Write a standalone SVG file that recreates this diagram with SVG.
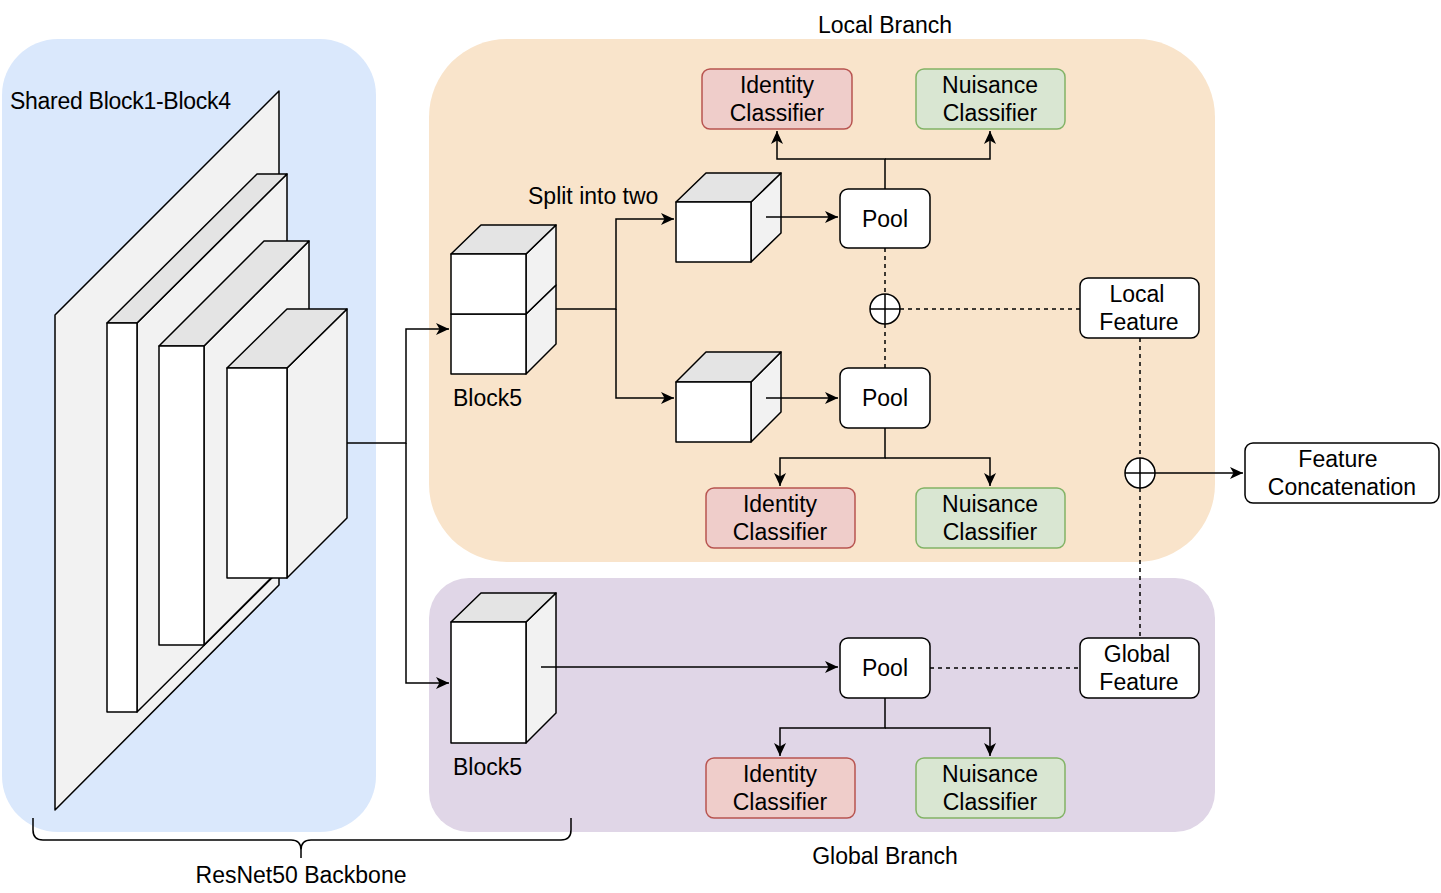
<svg xmlns="http://www.w3.org/2000/svg" width="1441" height="893" viewBox="0 0 1441 893">
<defs>
<marker id="arr" markerWidth="16" markerHeight="14" refX="13" refY="6" orient="auto" markerUnits="userSpaceOnUse">
<path d="M0,0 L13,6 L0,12 L3.5,6 z" fill="#000"/>
</marker>
<style>
text{font-family:"Liberation Sans",Arial,Helvetica,sans-serif;font-size:23px;fill:#000}
.c{text-anchor:middle}
.front{fill:#fff;stroke:#000;stroke-width:1.5;stroke-linejoin:round}
.top{fill:#e4e4e4;stroke:#000;stroke-width:1.5;stroke-linejoin:round}
.side{fill:#f2f2f2;stroke:#000;stroke-width:1.5;stroke-linejoin:round}
.box{fill:#fff;stroke:#000;stroke-width:1.5}
.id{fill:#efcdca;stroke:#b85450;stroke-width:1.5}
.nu{fill:#d9e6d2;stroke:#82b366;stroke-width:1.5}
.ln{fill:none;stroke:#000;stroke-width:1.5}
.dash{fill:none;stroke:#000;stroke-width:1.5;stroke-dasharray:4 4}
</style>
</defs>

<g id="panels">
<rect id="shared-panel" x="2" y="39" width="374" height="793" rx="56" ry="56" fill="#dae8fc"/>
<rect id="local-panel" x="429" y="39" width="786" height="523" rx="78" ry="78" fill="#f9e4cb"/>
<rect id="global-panel" x="429" y="578" width="786" height="254" rx="40" ry="40" fill="#e0d6e7"/>
</g>

<g id="labels">
<text x="10" y="109" textLength="221">Shared Block1-Block4</text>
<text class="c" x="885" y="33">Local Branch</text>
<text class="c" x="885" y="864">Global Branch</text>
<text class="c" x="301" y="883">ResNet50 Backbone</text>
<text x="528" y="204">Split into two</text>
</g>

<g id="block1">
<polygon class="side" points="55,315 279,91 279,585 55,810"/>
</g>
<g id="block2">
<polygon class="side" points="137,323 287,174 287,563 137,712"/>
<polygon class="top" points="107,323 257,174 287,174 137,323"/>
<rect class="front" x="107" y="323" width="30" height="389"/>
</g>
<g id="block3">
<polygon class="side" points="204,346 309,241 309,540 204,645"/>
<polygon class="top" points="159,346 264,241 309,241 204,346"/>
<rect class="front" x="159" y="346" width="45" height="299"/>
</g>
<g id="block4">
<polygon class="side" points="287,368 347,309 347,518 287,578"/>
<polygon class="top" points="227,368 287,309 347,309 287,368"/>
<rect class="front" x="227" y="368" width="60" height="210"/>
</g>

<g id="local-block5">
<polygon class="side" points="526,314 556,285 556,344 526,374"/>
<rect class="front" x="451" y="314" width="75" height="60"/>
<polygon class="side" points="526,254 556,225 556,285 526,314"/>
<polygon class="top" points="451,254 481,225 556,225 526,254"/>
<rect class="front" x="451" y="254" width="75" height="60"/>
<text x="453" y="406">Block5</text>
</g>

<g id="split-upper">
<polygon class="side" points="751,202 781,173 781,233 751,262"/>
<polygon class="top" points="676,202 706,173 781,173 751,202"/>
<rect class="front" x="676" y="202" width="75" height="60"/>
</g>
<g id="split-lower">
<polygon class="side" points="751,382 781,352 781,412 751,442"/>
<polygon class="top" points="676,382 706,352 781,352 751,382"/>
<rect class="front" x="676" y="382" width="75" height="60"/>
</g>

<g id="global-block5">
<polygon class="side" points="526,622 556,593 556,713 526,743"/>
<polygon class="top" points="451,622 481,593 556,593 526,622"/>
<rect class="front" x="451" y="622" width="75" height="121"/>
<text x="453" y="775">Block5</text>
</g>

<g id="connectors">
<path class="ln" d="M347,443 H406 V329 H449" marker-end="url(#arr)"/>
<path class="ln" d="M406,443 V683 H449" marker-end="url(#arr)"/>
<path class="ln" d="M556,309 H616 V219 H674" marker-end="url(#arr)"/>
<path class="ln" d="M616,309 V398 H674" marker-end="url(#arr)"/>
<path class="ln" d="M766,217 H838" marker-end="url(#arr)"/>
<path class="ln" d="M766,398 H838" marker-end="url(#arr)"/>
<path class="ln" d="M541,667 H838" marker-end="url(#arr)"/>
<path class="ln" d="M885,189 V159 H777 V131" marker-end="url(#arr)"/>
<path class="ln" d="M885,159 H990 V131" marker-end="url(#arr)"/>
<path class="ln" d="M885,428 V458 H780 V486" marker-end="url(#arr)"/>
<path class="ln" d="M885,458 H990 V486" marker-end="url(#arr)"/>
<path class="ln" d="M885,698 V728 H780 V756" marker-end="url(#arr)"/>
<path class="ln" d="M885,728 H990 V756" marker-end="url(#arr)"/>
<path class="ln" d="M1155,473 H1243" marker-end="url(#arr)"/>
<path class="dash" d="M885,248 V294"/>
<path class="dash" d="M885,324 V368"/>
<path class="dash" d="M900,309 H1080"/>
<path class="dash" d="M1140,338 V458"/>
<path class="dash" d="M1140,488 V638"/>
<path class="dash" d="M930,668 H1080"/>
<path class="ln" d="M33,818 V830 Q33,840 43,840 H291 Q301,840 301,850 V858 M301,850 Q301,840 311,840 H561 Q571,840 571,830 V818"/>
</g>

<g id="sum-local">
<circle cx="885" cy="309" r="15" fill="#fff" stroke="#000" stroke-width="1.5"/>
<path class="ln" d="M870,309 H900 M885,294 V324"/>
</g>
<g id="sum-concat">
<circle cx="1140" cy="473" r="15" fill="#fff" stroke="#000" stroke-width="1.5"/>
<path class="ln" d="M1125,473 H1155 M1140,458 V488"/>
</g>

<g id="pool-upper">
<rect class="box" x="840" y="189" width="90" height="59" rx="8"/>
<text class="c" x="885" y="227">Pool</text>
</g>
<g id="pool-lower">
<rect class="box" x="840" y="368" width="90" height="60" rx="8"/>
<text class="c" x="885" y="406">Pool</text>
</g>
<g id="pool-global">
<rect class="box" x="840" y="638" width="90" height="60" rx="8"/>
<text class="c" x="885" y="676">Pool</text>
</g>

<g id="id-top">
<rect class="id" x="702" y="69" width="150" height="60" rx="8"/>
<text class="c" x="777" y="93">Identity</text>
<text class="c" x="777" y="121">Classifier</text>
</g>
<g id="nu-top">
<rect class="nu" x="916" y="69" width="149" height="60" rx="8"/>
<text class="c" x="990" y="93">Nuisance</text>
<text class="c" x="990" y="121">Classifier</text>
</g>
<g id="id-mid">
<rect class="id" x="706" y="488" width="149" height="60" rx="8"/>
<text class="c" x="780" y="512">Identity</text>
<text class="c" x="780" y="540">Classifier</text>
</g>
<g id="nu-mid">
<rect class="nu" x="916" y="488" width="149" height="60" rx="8"/>
<text class="c" x="990" y="512">Nuisance</text>
<text class="c" x="990" y="540">Classifier</text>
</g>
<g id="id-global">
<rect class="id" x="706" y="758" width="149" height="60" rx="8"/>
<text class="c" x="780" y="782">Identity</text>
<text class="c" x="780" y="810">Classifier</text>
</g>
<g id="nu-global">
<rect class="nu" x="916" y="758" width="149" height="60" rx="8"/>
<text class="c" x="990" y="782">Nuisance</text>
<text class="c" x="990" y="810">Classifier</text>
</g>

<g id="local-feature">
<rect class="box" x="1080" y="278" width="119" height="60" rx="8"/>
<text class="c" x="1137" y="302">Local</text>
<text class="c" x="1139" y="330">Feature</text>
</g>
<g id="global-feature">
<rect class="box" x="1080" y="638" width="119" height="60" rx="8"/>
<text class="c" x="1137" y="662">Global</text>
<text class="c" x="1139" y="690">Feature</text>
</g>
<g id="feature-concat">
<rect class="box" x="1245" y="443" width="194" height="60" rx="8"/>
<text class="c" x="1338" y="467">Feature</text>
<text class="c" x="1342" y="495">Concatenation</text>
</g>
</svg>
